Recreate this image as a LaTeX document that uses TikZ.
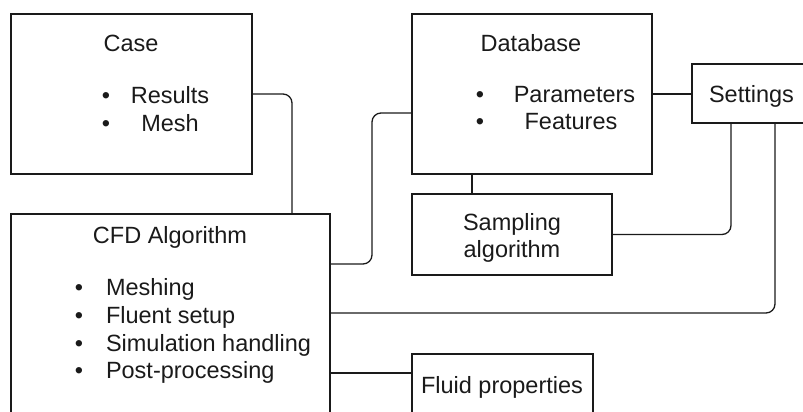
\documentclass[tikz,border=0pt]{standalone}
\usepackage{fontspec}
\setmainfont{Liberation Sans}
\definecolor{ink}{HTML}{1A1A1A}
\begin{document}
\begin{tikzpicture}[x=1pt,y=1pt,
  box/.style={draw=ink,line width=1.3pt,rectangle,inner sep=0pt,outer sep=0pt},
  txt/.style={text=ink,inner sep=0pt,outer sep=0pt,anchor=base,font=\fontsize{23.5}{28}\selectfont},
  ltxt/.style={txt,anchor=base west},
  conn/.style={draw=ink,line width=1.3pt,rounded corners=9pt}]
\useasboundingbox (0,0) rectangle (803,-412);
\clip (0,0) rectangle (803,-412);
% boxes
\node[box,minimum width=241pt,minimum height=160pt] (case) at (131.5,-94) {};
\node[box,minimum width=240pt,minimum height=160pt] (db) at (532,-94) {};
\node[box,minimum width=119pt,minimum height=59pt] (set) at (751.5,-93.5) {};
\node[box,minimum width=200pt,minimum height=81pt] (samp) at (512,-234.5) {};
\node[box,minimum width=319pt,minimum height=240pt] (cfd) at (170.5,-334) {};
\node[box,minimum width=181pt,minimum height=80pt] (fluid) at (502.5,-394) {};
% texts
\node[txt] (caseT) at (131,-51.5) {Case};
\node[txt] (caseB1) at (106,-103) {•};
\node[txt] (caseI1) at (170,-103) {Results};
\node[txt] (caseB2) at (106,-131) {•};
\node[txt] (caseI2) at (170,-131) {Mesh};
\node[txt] (dbT) at (531,-51.5) {Database};
\node[txt] (dbB1) at (480,-102) {•};
\node[txt] (dbI1) at (574.5,-102) {Parameters};
\node[txt] (dbB2) at (480,-129.5) {•};
\node[txt] (dbI2) at (571,-129.5) {Features};
\node[txt] (setT) at (751.5,-102.3) {Settings};
\node[txt] (sampT1) at (512,-230) {Sampling};
\node[txt] (sampT2) at (512,-257.7) {algorithm};
\node[txt] (cfdT) at (170,-243.3) {CFD Algorithm};
\node[txt] (cfdB1) at (79,-295.7) {•};
\node[ltxt] (cfdI1) at (106,-295.7) {Meshing};
\node[txt] (cfdB2) at (79,-323.3) {•};
\node[ltxt] (cfdI2) at (106,-323.3) {Fluent setup};
\node[txt] (cfdB3) at (79,-351) {•};
\node[ltxt] (cfdI3) at (106,-351) {Simulation handling};
\node[txt] (cfdB4) at (79,-378.5) {•};
\node[ltxt] (cfdI4) at (106,-378.5) {Post-processing};
\node[txt] (fluidT) at (502,-393.3) {Fluid properties};
% connectors
\draw[conn] (case.east) -| ([xshift=281pt]cfd.north west);
\draw[conn] ([yshift=-50pt]cfd.north east) -| ([xshift=-40pt,yshift=-19pt]db.west) -- ([yshift=-19pt]db.west);
\draw[conn] (db.east) -- (db.east -| set.west);
\draw[conn] ([xshift=60pt]db.south west) -- ([xshift=60pt]samp.north west);
\draw[conn] (samp.east) -| ([xshift=39pt]set.south west);
\draw[conn] ([xshift=83pt]set.south west) |- ([yshift=-99pt]cfd.north east);
\draw[conn] ([yshift=-159pt]cfd.north east) -- ([yshift=-159pt]cfd.north east -| fluid.west);
\end{tikzpicture}
\end{document}
